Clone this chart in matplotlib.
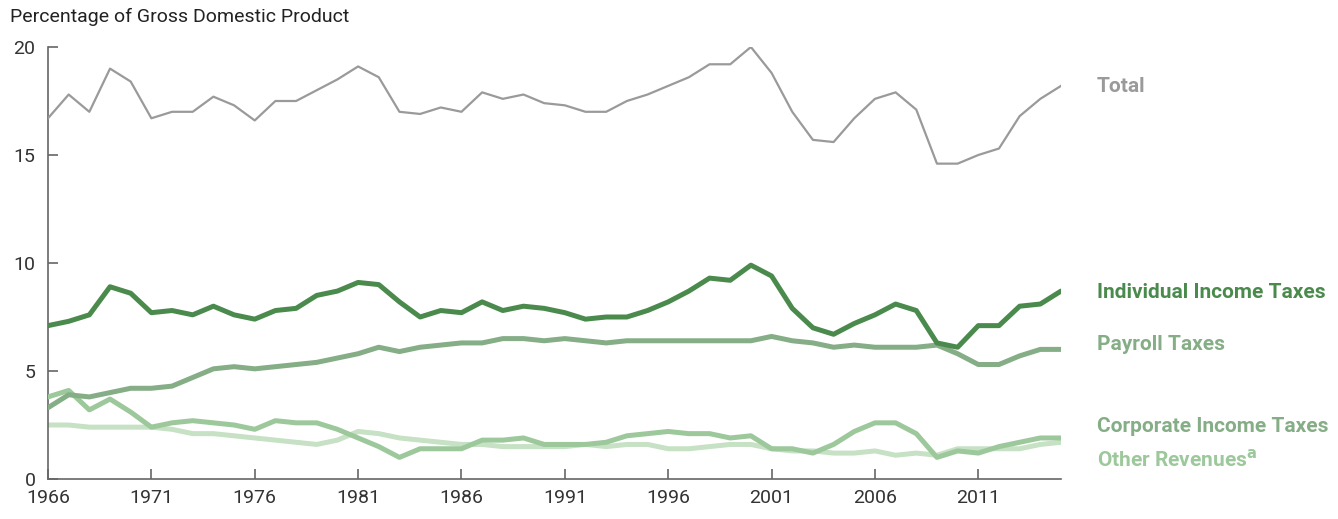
import numpy as np
import matplotlib
matplotlib.use("Agg")
import matplotlib.pyplot as plt

plt.rcParams['font.family'] = ['Roboto', 'DejaVu Sans']

years = np.arange(1966, 2016)

total = [16.7, 17.8, 17.0, 19.0, 18.4, 16.7, 17.0, 17.0, 17.7, 17.3,
         16.6, 17.5, 17.5, 18.0, 18.5, 19.1, 18.6, 17.0, 16.9, 17.2,
         17.0, 17.9, 17.6, 17.8, 17.4, 17.3, 17.0, 17.0, 17.5, 17.8,
         18.2, 18.6, 19.2, 19.2, 20.0, 18.8, 17.0, 15.7, 15.6, 16.7,
         17.6, 17.9, 17.1, 14.6, 14.6, 15.0, 15.3, 16.8, 17.6, 18.2]

individual = [7.1, 7.3, 7.6, 8.9, 8.6, 7.7, 7.8, 7.6, 8.0, 7.6,
              7.4, 7.8, 7.9, 8.5, 8.7, 9.1, 9.0, 8.2, 7.5, 7.8,
              7.7, 8.2, 7.8, 8.0, 7.9, 7.7, 7.4, 7.5, 7.5, 7.8,
              8.2, 8.7, 9.3, 9.2, 9.9, 9.4, 7.9, 7.0, 6.7, 7.2,
              7.6, 8.1, 7.8, 6.3, 6.1, 7.1, 7.1, 8.0, 8.1, 8.7]

payroll = [3.3, 3.9, 3.8, 4.0, 4.2, 4.2, 4.3, 4.7, 5.1, 5.2,
           5.1, 5.2, 5.3, 5.4, 5.6, 5.8, 6.1, 5.9, 6.1, 6.2,
           6.3, 6.3, 6.5, 6.5, 6.4, 6.5, 6.4, 6.3, 6.4, 6.4,
           6.4, 6.4, 6.4, 6.4, 6.4, 6.6, 6.4, 6.3, 6.1, 6.2,
           6.1, 6.1, 6.1, 6.2, 5.8, 5.3, 5.3, 5.7, 6.0, 6.0]

corporate = [3.8, 4.1, 3.2, 3.7, 3.1, 2.4, 2.6, 2.7, 2.6, 2.5,
             2.3, 2.7, 2.6, 2.6, 2.3, 1.9, 1.5, 1.0, 1.4, 1.4,
             1.4, 1.8, 1.8, 1.9, 1.6, 1.6, 1.6, 1.7, 2.0, 2.1,
             2.2, 2.1, 2.1, 1.9, 2.0, 1.4, 1.4, 1.2, 1.6, 2.2,
             2.6, 2.6, 2.1, 1.0, 1.3, 1.2, 1.5, 1.7, 1.9, 1.9]

other = [2.5, 2.5, 2.4, 2.4, 2.4, 2.4, 2.3, 2.1, 2.1, 2.0,
         1.9, 1.8, 1.7, 1.6, 1.8, 2.2, 2.1, 1.9, 1.8, 1.7,
         1.6, 1.6, 1.5, 1.5, 1.5, 1.5, 1.6, 1.5, 1.6, 1.6,
         1.4, 1.4, 1.5, 1.6, 1.6, 1.4, 1.3, 1.3, 1.2, 1.2,
         1.3, 1.1, 1.2, 1.1, 1.4, 1.4, 1.4, 1.4, 1.6, 1.7]

c_total = '#9a9a9a'
c_indiv = '#4b8a4d'
c_payroll = '#85ad86'
c_corp = '#9cc89b'
c_other = '#c6e1c4'

fig = plt.figure(figsize=(13.38, 5.19), dpi=100)
ax = fig.add_axes([48 / 1338, 1 - 479 / 519, (1061 - 48) / 1338, (479 - 47) / 519])

ax.plot(years, other, color=c_other, lw=3.6, solid_capstyle='round', zorder=2)
ax.plot(years, corporate, color=c_corp, lw=3.6, solid_capstyle='round', zorder=3)
ax.plot(years, payroll, color=c_payroll, lw=3.6, solid_capstyle='round', zorder=4)
ax.plot(years, individual, color=c_indiv, lw=3.6, solid_capstyle='round', zorder=5)
ax.plot(years, total, color=c_total, lw=1.6, zorder=5)

ax.set_xlim(1966, 2015)
ax.set_ylim(0, 20)
ax.set_xticks(np.arange(1966, 2015, 5))
ax.set_yticks([0, 5, 10, 15, 20])

for s in ['top', 'right']:
    ax.spines[s].set_visible(False)
for s in ['left', 'bottom']:
    ax.spines[s].set_color('#666666')
    ax.spines[s].set_linewidth(1.2)
ax.tick_params(direction='in', length=7, width=1.2, color='#666666',
               labelsize=14, labelcolor='#333333')
ax.tick_params(axis='x', pad=7)
ax.tick_params(axis='y', pad=9)

fig.text(10 / 1338, 1 - 17 / 519, 'Percentage of Gross Domestic Product',
         fontsize=14, color='#222222', va='center', ha='left')

lab_x = 1097 / 1338
labels = [('Total', 86, c_total),
          ('Individual Income Taxes', 293, c_indiv),
          ('Payroll Taxes', 345, c_payroll),
          ('Corporate Income Taxes', 427, c_payroll),
          ('Other Revenues$^{\\mathbf{a}}$', 459, c_corp)]
for txt, yp, col in labels:
    fig.text(lab_x, 1 - yp / 519, txt, fontsize=15, fontweight='bold',
             color=col, va='center', ha='left')

fig.savefig('out.png', dpi=100)
